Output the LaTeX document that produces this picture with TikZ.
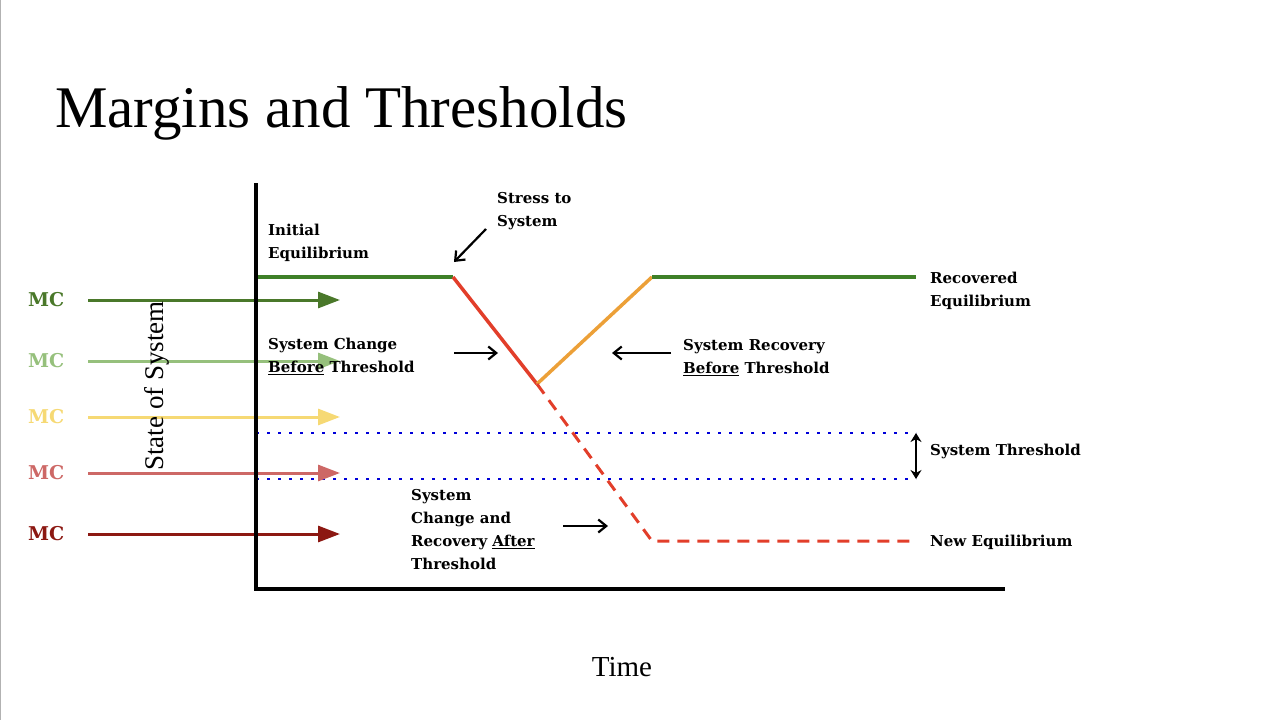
\documentclass[tikz,border=0pt]{standalone}
\usepackage{fontspec}
\setmainfont{Liberation Serif}
\newfontfamily\lblfont{DejaVu Serif}
\usetikzlibrary{arrows.meta}

\begin{document}
\begin{tikzpicture}[x=1pt, y=-1pt]

% Set the overall frame of the slide
\useasboundingbox (0,0) rectangle (1280,720);
\draw[gray!60, line width=1pt] (0.5,0) -- (0.5,720);

% Define styles for labels, curves and arrows
\tikzstyle{lbl} = [anchor=north west, align=left, inner sep=0pt, font=\lblfont\bfseries\fontsize{15}{23}\selectfont]
\tikzstyle{mc} = [anchor=west, inner sep=0pt, font=\lblfont\bfseries\fontsize{19}{24}\selectfont]
\tikzstyle{mcarrow} = [line width=3pt, -{Triangle[length=22pt, width=16pt]}]
\tikzstyle{pointer} = [line width=2.2pt, -{Straight Barb[length=8pt, width=13pt]}]
\tikzstyle{curve} = [line width=3.5pt]
\tikzstyle{limit} = [blue!85!black, line width=2.5pt, dash pattern=on 2.5pt off 8.5pt]

\definecolor{mcgreen}{RGB}{74,120,42}
\definecolor{mclight}{RGB}{150,192,124}
\definecolor{mcyellow}{RGB}{246,217,116}
\definecolor{mcpink}{RGB}{205,104,102}
\definecolor{mcred}{RGB}{140,24,18}
\definecolor{eqgreen}{RGB}{62,128,40}
\definecolor{dropred}{RGB}{226,62,42}
\definecolor{uporange}{RGB}{236,160,56}

% Title and axis names
\node[anchor=base west, inner sep=0pt, font=\fontsize{59}{70}\selectfont] (title) at (55,127) {Margins and Thresholds};
\node[inner sep=0pt, font=\fontsize{29}{34}\selectfont] (time) at (622,667) {Time};

% Corner points of the curves
\coordinate (o) at (256,589);
\coordinate (top) at (256,183);
\coordinate (xend) at (1005,589);
\coordinate (start) at (256,277);
\coordinate (stress) at (453,277);
\coordinate (low) at (537,384);
\coordinate (back) at (652,277);
\coordinate (recov) at (916,277);
\coordinate (drop) at (652,541);
\coordinate (newend) at (910,541);
\coordinate (tl) at (256,433);
\coordinate (tr) at (916,433);
\coordinate (bl) at (256,479);
\coordinate (br) at (916,479);

% Limits of the threshold
\draw[limit] (tl) -- (tr);
\draw[limit] (bl) -- (br);
\draw[line width=2.2pt, {Stealth[length=9pt, width=11pt]}-{Stealth[length=9pt, width=11pt]}] (tr) -- (br);

% State of the system
\draw[curve, eqgreen] (start) -- (stress);
\draw[curve, dropred] (stress) -- (low);
\draw[curve, uporange] (low) -- (back);
\draw[curve, eqgreen] (back) -- (recov);
\draw[curve, dropred, line width=3pt, dash pattern=on 12pt off 8pt] (low) -- (drop) -- (newend);

% Margin arrows
\foreach \col/\yy/\nm in {mcgreen/300/a, mclight/361/b, mcyellow/417/c, mcpink/473/d, mcred/534/e}{
  \node[mc, text=\col] (mc\nm) at (28,\yy) {MC};
  \coordinate (tip\nm) at (340,\yy);
  \draw[mcarrow, \col] (88,\yy) -- (tip\nm);
}

\node[rotate=90, inner sep=0pt, font=\fontsize{27}{30}\selectfont] (state) at (157,386) {State of System};

% Axes
\draw[line width=4pt] (top) -- (o) -- (xend);

% Labels of the parts
\node[lbl] (init) at (268,224) {Initial\\Equilibrium};
\node[lbl] (stresslbl) at (497,192) {Stress to\\System};
\node[lbl] (recovlbl) at (930,272) {Recovered\\Equilibrium};
\node[lbl] (before) at (268,338) {System Change\\\underline{Before} Threshold};
\node[lbl] (rebefore) at (683,339) {System Recovery\\\underline{Before} Threshold};
\node[lbl] (thr) at (930,444) {System Threshold};
\node[lbl] (after) at (411,489) {System\\Change and\\Recovery \underline{After}\\Threshold};
\node[lbl] (newlbl) at (930,535) {New Equilibrium};

% Pointers
\coordinate (p1) at (486,229);
\coordinate (p1e) at (454,262);
\coordinate (p2) at (454,353);
\coordinate (p2e) at (498,353);
\coordinate (p3) at (671,353);
\coordinate (p3e) at (612,353);
\coordinate (p4) at (563,526);
\coordinate (p4e) at (608,526);
\draw[pointer] (p1) -- (p1e);
\draw[pointer] (p2) -- (p2e);
\draw[pointer] (p3) -- (p3e);
\draw[pointer] (p4) -- (p4e);

\end{tikzpicture}
\end{document}
